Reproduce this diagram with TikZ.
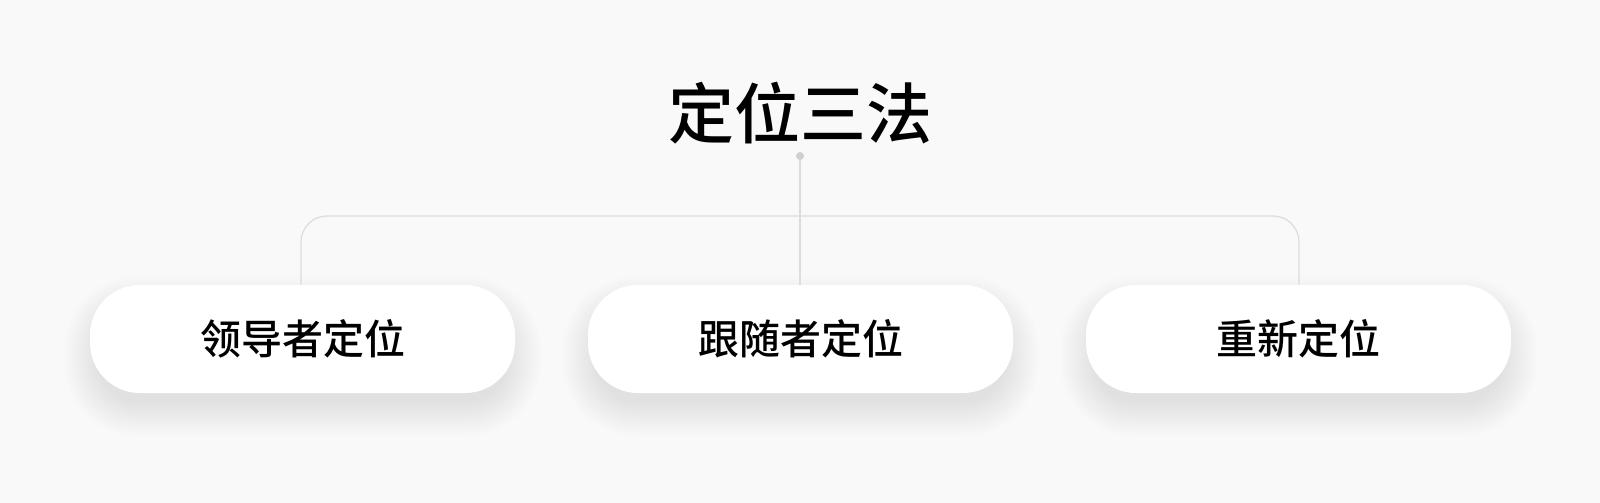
\documentclass[tikz,border=0pt]{standalone}
\usepackage{fontspec}
\IfFontExistsTF{Noto Sans CJK SC Medium}{\newfontfamily\cjk{Noto Sans CJK SC Medium}}{\newfontfamily\cjk{Noto Sans CJK SC}[FakeBold=1.2]}
\usetikzlibrary{backgrounds}
\definecolor{bg}{HTML}{F9F9F9}
\definecolor{ln}{HTML}{DCDCDC}
\definecolor{dotc}{HTML}{CFCFCF}
\newcommand\pshadow[2]{%
  \foreach \i in {0,...,23}{%
    \pgfmathsetmacro\e{\i*1.5-8}%
    \pgfmathsetmacro\rr{48+\e}%
    \fill[black,fill opacity=0.005,rounded corners=\rr pt] (#1-212.5-\e, #2+17-54-\e) rectangle (#1+212.5+\e, #2+17+54+\e);
  }}
\begin{document}
\begin{tikzpicture}[x=1pt,y=-1pt,
  pill/.style={draw=none, fill=white, rounded corners=50pt, minimum width=425pt, minimum height=108pt, inner sep=0pt, font=\cjk\fontsize{41}{45}\selectfont, text=black},
  conn/.style={draw=ln, line width=1.2pt}]
\useasboundingbox (0,0) rectangle (1600,503);
\node[font=\cjk\fontsize{66}{70}\selectfont, text=black] (title) at (800,113) {定位三法};
\node[circle, fill=dotc, inner sep=0pt, minimum size=8pt] (dot) at (800,156) {};
\node[pill] (a) at (302.5,339) {领导者定位};
\node[pill] (b) at (800.5,339) {跟随者定位};
\node[pill] (c) at (1298.5,339) {重新定位};
\coordinate (hl) at (301,216);
\coordinate (hr) at (1299,216);
\draw[conn] (dot) -- (dot |- b.north);
\draw[conn, rounded corners=26pt] (a.north -| hl) -- (hl) -- (hr) -- (c.north -| hr);
\begin{scope}[on background layer]
\fill[bg] (0,0) rectangle (1600,503);
\pshadow{302.5}{339}
\pshadow{800.5}{339}
\pshadow{1298.5}{339}
\end{scope}
\end{tikzpicture}
\end{document}
